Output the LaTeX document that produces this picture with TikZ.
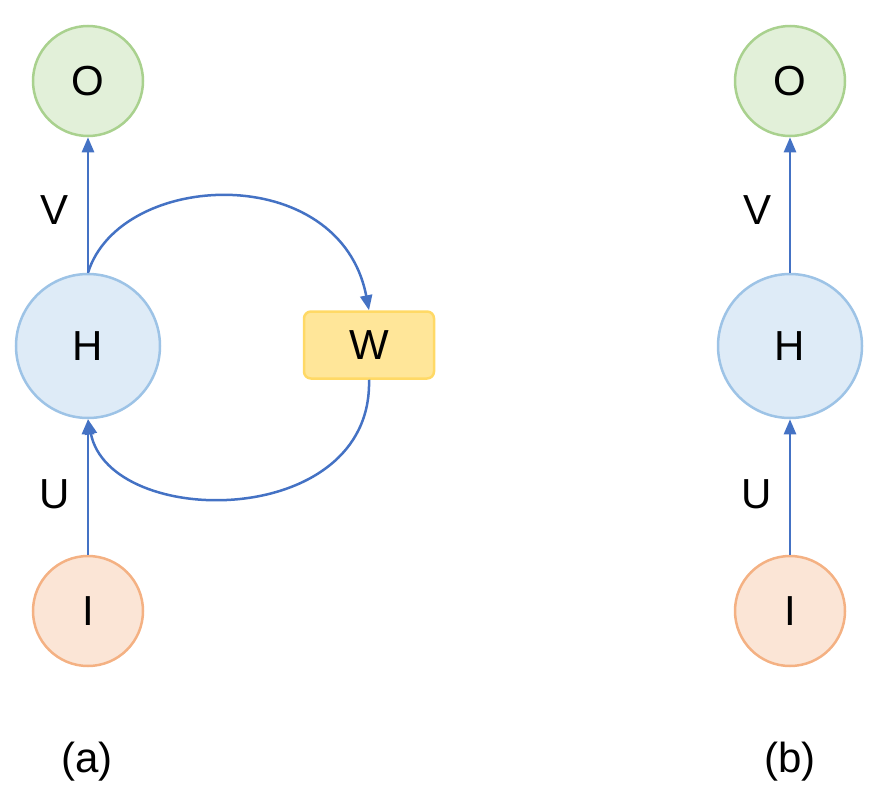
\documentclass[tikz,border=0pt]{standalone}
\usepackage{fontspec}
\setmainfont{Liberation Sans}
\usetikzlibrary{arrows.meta}
\definecolor{ofill}{HTML}{E2F0D9}\definecolor{odraw}{HTML}{A9D18E}
\definecolor{hfill}{HTML}{DEEBF7}\definecolor{hdraw}{HTML}{9DC3E6}
\definecolor{ifill}{HTML}{FBE5D6}\definecolor{idraw}{HTML}{F4B183}
\definecolor{wfill}{HTML}{FFE699}\definecolor{wdraw}{HTML}{FFD966}
\definecolor{arr}{HTML}{4472C4}
\begin{document}
\begin{tikzpicture}[x=1pt,y=-1pt,
  txt/.style={font=\fontsize{42}{46}\selectfont},
  circ/.style={circle,line width=2.5pt,inner sep=0pt,txt},
  onode/.style={circ,fill=ofill,draw=odraw,minimum size=110pt},
  hnode/.style={circ,fill=hfill,draw=hdraw,minimum size=144pt},
  inode/.style={circ,fill=ifill,draw=idraw,minimum size=110pt},
  wnode/.style={rectangle,rounded corners=7pt,line width=2.5pt,fill=wfill,draw=wdraw,minimum width=130pt,minimum height=67pt,txt},
  conn/.style={draw=arr,line width=2.5pt,-{Triangle[length=15pt,width=12pt]}}]
\useasboundingbox (0,0) rectangle (878,806);
% (a)
\node[onode] (o1) at (88,81) {O};
\node[hnode] (h1) at (88,346) {H};
\node[inode] (i1) at (88,611) {I};
\node[wnode] (w) at (369,345) {W};
\node[txt] (v1) at (55,210) {V};
\node[txt] (u1) at (55,494) {U};
\node[txt] (a) at (87,762) {(a)};
\draw[conn] (h1.north) -- (o1.south);
\draw[conn] (i1.north) -- (h1.south);
\draw[conn] (h1.north) .. controls (120,170) and (340,160) .. (w.north);
\draw[conn] (w.south) .. controls (373,530) and (110,530) .. (h1.south);
% (b)
\node[onode] (o2) at (790,81) {O};
\node[hnode] (h2) at (790,346) {H};
\node[inode] (i2) at (790,611) {I};
\node[txt] (v2) at (757,210) {V};
\node[txt] (u2) at (757,494) {U};
\node[txt] (b) at (790,762) {(b)};
\draw[conn] (h2.north) -- (o2.south);
\draw[conn] (i2.north) -- (h2.south);
\end{tikzpicture}
\end{document}
